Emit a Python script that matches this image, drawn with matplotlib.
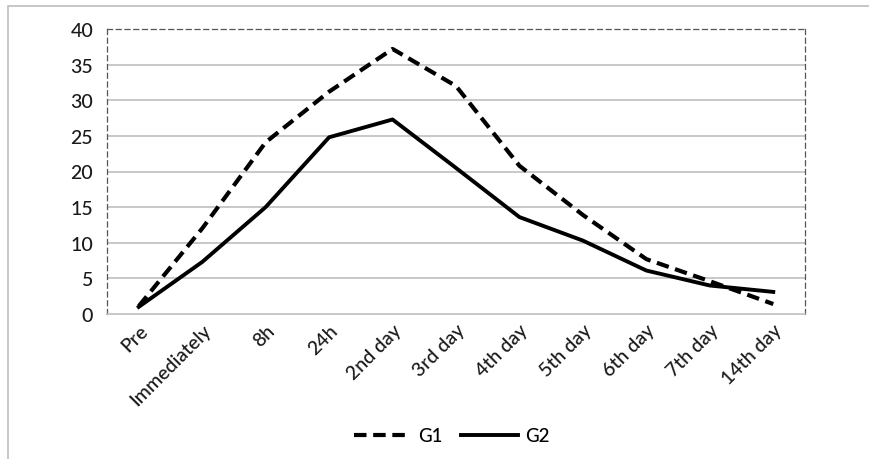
import matplotlib
matplotlib.use("Agg")
import matplotlib.pyplot as plt
from matplotlib.patches import Rectangle

categories = ["Pre", "Immediately", "8h", "24h", "2nd day", "3rd day", "4th day",
              "5th day", "6th day", "7th day", "14th day"]
g1 = [1.1, 12.0, 24.1, 31.2, 37.2, 32.0, 20.8, 13.9, 7.7, 4.6, 1.4]
g2 = [1.0, 7.3, 15.0, 24.8, 27.3, 20.5, 13.6, 10.3, 6.1, 4.0, 3.1]
yticks = [0, 5, 10, 15, 20, 25, 30, 35, 40]

plt.rcParams['font.family'] = ['Lato', 'DejaVu Sans']

fig = plt.figure(figsize=(8.69, 4.6), dpi=100)
fig.patches.append(Rectangle((8/869, -0.1), 1.0, (460-7)/460 + 0.1, transform=fig.transFigure,
                             fill=False, edgecolor='#bdbdbd', linewidth=1.2))
ax = fig.add_axes([107/869, 1 - 315/460, (805-107)/869, (315-30)/460])

x = list(range(len(categories)))
l1, = ax.plot(x, g1, color='black', linewidth=3, linestyle=(0, (3, 1.6)), label='G1')
l2, = ax.plot(x, g2, color='black', linewidth=2.8, label='G2')

ax.set_xlim(-0.5, len(categories) - 0.5)
ax.set_ylim(0, 40)
ax.set_yticks(yticks)
for v in yticks[1:-1]:
    ax.axhline(v, color='#bfbfbf', linewidth=1.2, zorder=0)

for side in ['left', 'top', 'right']:
    ax.spines[side].set_linestyle((0, (4, 3)))
    ax.spines[side].set_color('#555555')
    ax.spines[side].set_linewidth(0.9)
ax.spines['bottom'].set_color('#bfbfbf')
ax.spines['bottom'].set_linewidth(1.2)

ax.set_xticks(x)
ax.set_xticklabels(categories, rotation=45, ha='right', rotation_mode='anchor',
                   fontsize=14, fontweight='medium')
for lab in ax.get_yticklabels():
    lab.set_fontweight('medium')
ax.tick_params(axis='x', length=0, colors='#1a1a1a', labelsize=14, pad=5)
ax.tick_params(axis='y', length=0, colors='#1a1a1a', labelsize=14, pad=10)

fig.legend(handles=[l1, l2], loc='center', bbox_to_anchor=(452/869, 1 - 437/460), ncol=2,
           frameon=False, prop={'size': 13.5, 'weight': 'medium'}, handlelength=3.0,
           columnspacing=1.0, handletextpad=0.4)

fig.savefig("out.png", dpi=100)
